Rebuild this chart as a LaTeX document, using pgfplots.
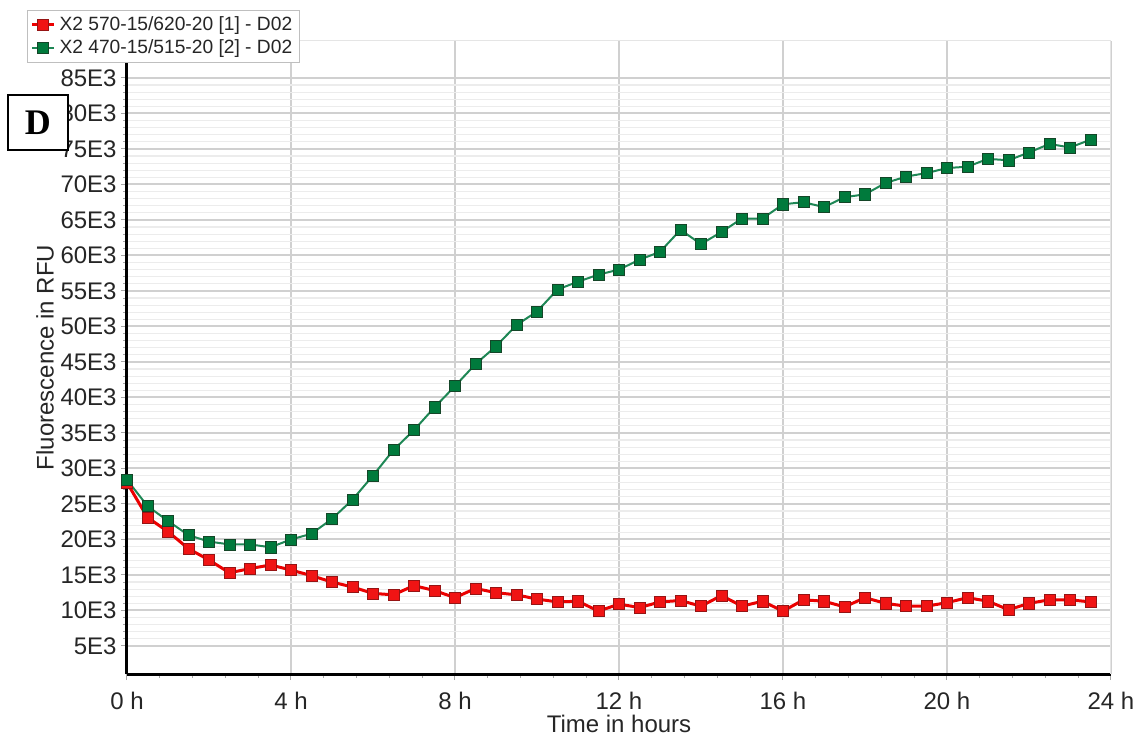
\documentclass[border=0pt]{standalone}
\usepackage{pgfplots}
\pgfplotsset{compat=1.18}
\usepackage{fontspec}
\setmainfont{Liberation Sans}
\newfontfamily\serifbold{Liberation Serif}

\definecolor{redline}{RGB}{235,0,0}
\definecolor{redmark}{RGB}{240,20,20}
\definecolor{redborder}{RGB}{150,20,20}
\definecolor{greenline}{RGB}{30,135,85}
\definecolor{greenmark}{RGB}{0,122,60}
\definecolor{greenborder}{RGB}{20,70,40}
\definecolor{majorgrid}{RGB}{208,208,208}
\definecolor{minorgrid}{RGB}{236,236,236}

\begin{document}
\begin{tikzpicture}
\begin{axis}[
  scale only axis,
  width=492pt, height=316.5pt,
  xmin=0, xmax=24,
  ymin=1050, ymax=90200,
  scaled y ticks=false,
  axis x line*=bottom, axis y line*=left,
  axis line style={-, black, line width=1.5pt},
  xtick={0,4,...,24},
  xticklabels={0 h,4 h,8 h,12 h,16 h,20 h,24 h},
  minor x tick num=4,
  ytick={5000,10000,...,85000},
  yticklabels={5E3,10E3,15E3,20E3,25E3,30E3,35E3,40E3,45E3,50E3,55E3,60E3,65E3,70E3,75E3,80E3,85E3},
  minor y tick num=4,
  tick align=outside,
  major tick length=3pt, minor tick length=2pt,
  tick style={gray!70, line width=0.5pt},
  xmajorgrids, ymajorgrids, yminorgrids,
  major grid style={majorgrid, line width=1pt},
  minor grid style={minorgrid, line width=0.6pt},
  ticklabel style={font=\fontsize{12}{14}\selectfont, text=black!85},
  xticklabel style={inner sep=0pt, yshift=-6pt},
  yticklabel style={inner sep=0pt, xshift=-2pt},
  xlabel={Time in hours},
  ylabel={Fluorescence in RFU},
  label style={font=\fontsize{12}{14}\selectfont, text=black!85},
  xlabel style={at={(axis description cs:0.5,-0.079)}, anchor=center},
  ylabel style={at={(axis description cs:-0.0833,0.5)}, anchor=center, rotate=0},
  legend cell align=left,
  legend style={at={(axis description cs:-0.1016,1.049)}, anchor=north west,
    draw=gray!50, line width=0.5pt, fill=white,
    font=\fontsize{9.6}{11}\selectfont, text=black!85,
    inner xsep=1.5pt, inner ysep=1pt, row sep=-1pt},
  legend image code/.code={
    \draw[mark repeat=2, mark phase=2] plot coordinates {(0pt,0pt) (5.5pt,0pt) (11pt,0pt)};
  },
]
% channel 1: 570-15/620-20
\addplot[redline, line width=1.5pt, mark=square*, mark size=2.8pt,
  mark options={fill=redmark, draw=redborder, line width=0.3pt}]
  table {
t F
0 28000
0.5 23100
1 21100
1.5 18700
2 17100
2.5 15300
3 15900
3.5 16400
4 15700
4.5 14900
5 14000
5.5 13300
6 12400
6.5 12200
7 13500
7.5 12800
8 11800
8.5 13100
9 12500
9.5 12200
10 11600
10.5 11200
11 11300
11.5 9900
12 10900
12.5 10400
13 11200
13.5 11400
14 10600
14.5 12100
15 10600
15.5 11300
16 9900
16.5 11500
17 11300
17.5 10500
18 11800
18.5 11000
19 10600
19.5 10600
20 11100
20.5 11800
21 11300
21.5 10100
22 11000
22.5 11500
23 11500
23.5 11200
};
\addlegendentry{X2 570-15/620-20 [1] - D02}
% channel 2: 470-15/515-20
\addplot[greenline, line width=1pt, mark=square*, mark size=2.8pt,
  mark options={fill=greenmark, draw=greenborder, line width=0.3pt}]
  table {
t F
0 28400
0.5 24700
1 22600
1.5 20600
2 19700
2.5 19300
3 19300
3.5 18900
4 20000
4.5 20800
5 22900
5.5 25600
6 29000
6.5 32600
7 35400
7.5 38600
8 41600
8.5 44700
9 47200
9.5 50200
10 52100
10.5 55200
11 56300
11.5 57300
12 58000
12.5 59400
13 60500
13.5 63600
14 61600
14.5 63300
15 65200
15.5 65200
16 67200
16.5 67500
17 66800
17.5 68200
18 68600
18.5 70200
19 71100
19.5 71600
20 72300
20.5 72500
21 73600
21.5 73400
22 74500
22.5 75700
23 75200
23.5 76300
};
\addlegendentry{X2 470-15/515-20 [2] - D02}
% faint frame on the open sides
\draw[gray!20, line width=0.5pt] (rel axis cs:0,1) -- (rel axis cs:1,1) -- (rel axis cs:1,0);
\end{axis}
% panel letter
\node[draw=black, line width=1pt, fill=white, minimum width=30pt, minimum height=27.5pt,
  inner sep=0pt, font=\serifbold\bfseries\fontsize{18}{18}\selectfont]
  at (-44.5pt,275.75pt) {D};
\path[use as bounding box] (-63.5pt,-33pt) rectangle (505pt,337pt);
\end{tikzpicture}
\end{document}
